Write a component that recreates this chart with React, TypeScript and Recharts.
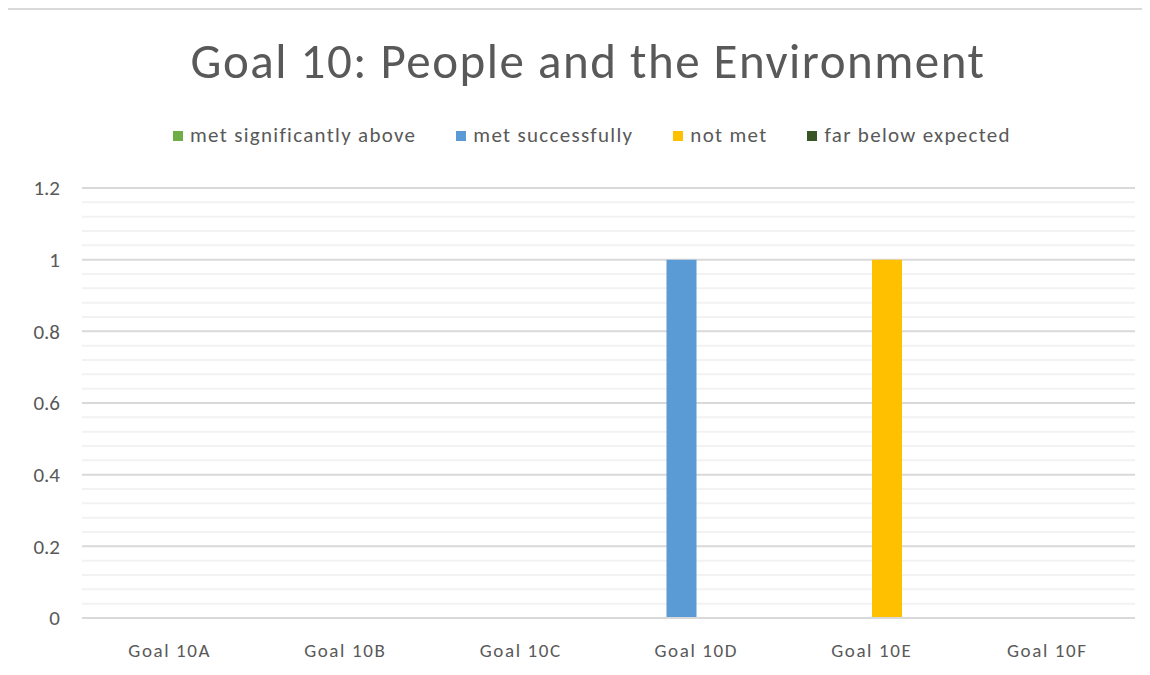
import React from 'react';
import { BarChart, Bar, XAxis, YAxis, CartesianGrid } from 'recharts';

const categories = ['Goal 10A', 'Goal 10B', 'Goal 10C', 'Goal 10D', 'Goal 10E', 'Goal 10F'];
const metSignificantlyAbove = [0, 0, 0, 0, 0, 0];
const metSuccessfully = [0, 0, 0, 1, 0, 0];
const notMet = [0, 0, 0, 0, 1, 0];
const farBelowExpected = [0, 0, 0, 0, 0, 0];

// labelled ticks, plus the light minor lines every 0.04
const majorTicks = [0, 0.2, 0.4, 0.6, 0.8, 1, 1.2];
const minorTicks = [
  0, 0.04, 0.08, 0.12, 0.16, 0.2, 0.24, 0.28, 0.32, 0.36, 0.4, 0.44, 0.48, 0.52, 0.56, 0.6,
  0.64, 0.68, 0.72, 0.76, 0.8, 0.84, 0.88, 0.92, 0.96, 1, 1.04, 1.08, 1.12, 1.16, 1.2,
];

const series = [
  { key: 'above', name: 'met significantly above', color: '#70ad47', values: metSignificantlyAbove },
  { key: 'success', name: 'met successfully', color: '#5b9bd5', values: metSuccessfully },
  { key: 'notMet', name: 'not met', color: '#ffc000', values: notMet },
  { key: 'farBelow', name: 'far below expected', color: '#375623', values: farBelowExpected },
];

const data = categories.map((name, i) => {
  const row: Record<string, string | number> = { name };
  series.forEach((s) => {
    row[s.key] = s.values[i];
  });
  return row;
});

const FONT = 'Calibri, Carlito, Lato, sans-serif';
const TEXT = '#595959';
const MAJOR = '#d9d9d9';
const MINOR = '#f2f2f2';

const isMajor = (v: number) => majorTicks.some((m) => Math.abs(m - v) < 1e-6);

const YTick = (props: any) => {
  const { x, y, payload } = props;
  if (!isMajor(payload.value)) return null;
  return (
    <text x={x} y={y} dy="0.355em" textAnchor="end" fontSize={21} fill={TEXT} fontFamily={FONT}>
      {payload.value}
    </text>
  );
};

const GridLine = (props: any) => {
  const { x1, x2, y1, y2, index } = props;
  const major = index % 5 === 0;
  return <line x1={x1} x2={x2} y1={y1} y2={y2} stroke={major ? MAJOR : MINOR} strokeWidth={2} />;
};

const App = () => {
  return (
    <div
      style={{
        position: 'relative',
        width: 1150,
        height: 675,
        marginLeft: -8,
        marginTop: -8,
        overflow: 'hidden',
        background: '#fff',
        fontFamily: FONT,
      }}
    >
      <div
        style={{
          position: 'absolute',
          left: 5,
          top: 8,
          width: 1200,
          height: 700,
          border: '2px solid #d9d9d9',
        }}
      />
      <div
        style={{
          position: 'absolute',
          left: 0,
          top: 37,
          width: 1176,
          textAlign: 'center',
          fontSize: 49,
          fontWeight: 300,
          letterSpacing: 1.5,
          lineHeight: '49px',
          color: TEXT,
        }}
      >
        Goal 10: People and the Environment
      </div>
      <div
        style={{
          position: 'absolute',
          left: 0,
          top: 123,
          width: 1184,
          display: 'flex',
          justifyContent: 'center',
          gap: 40,
          fontSize: 21,
          letterSpacing: 1.3,
          lineHeight: '25px',
          color: TEXT,
        }}
      >
        {series.map((s) => (
          <div key={s.key} style={{ display: 'flex', alignItems: 'center' }}>
            <span style={{ width: 10, height: 10, background: s.color, marginRight: 7 }} />
            {s.name}
          </div>
        ))}
      </div>
      <div style={{ position: 'absolute', left: 0, top: 0 }}>
        <BarChart
          width={1150}
          height={675}
          data={data}
          margin={{ top: 188, right: 15, left: 22, bottom: 17 }}
          barCategoryGap={28}
          barGap={0}
        >
          <CartesianGrid vertical={false} horizontal={GridLine} />
          <YAxis
            domain={[0, 1.2]}
            ticks={minorTicks}
            interval={0}
            width={60}
            axisLine={false}
            tickLine={false}
            tickMargin={16}
            tick={YTick}
          />
          <XAxis
            dataKey="name"
            height={40}
            axisLine={{ stroke: MAJOR, strokeWidth: 2 }}
            tickLine={false}
            tickMargin={20}
            tick={{ fontSize: 19, fill: TEXT, fontFamily: FONT, letterSpacing: 1.6 }}
          />
          {series.map((s) => (
            <Bar key={s.key} dataKey={s.key} name={s.name} fill={s.color} isAnimationActive={false} />
          ))}
        </BarChart>
      </div>
    </div>
  );
};

export default App;
